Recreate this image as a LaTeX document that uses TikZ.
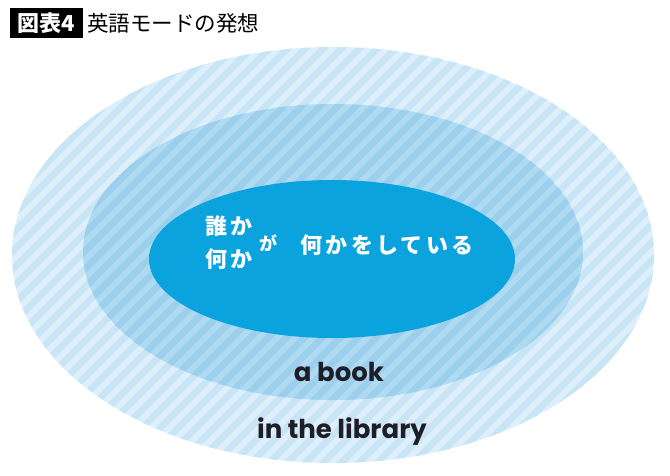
\documentclass[tikz,border=0pt]{standalone}
\usepackage{fontspec}
\newfontfamily\cjk{Noto Sans CJK JP}
\newfontfamily\cjkwide{Noto Sans CJK JP}[LetterSpace=15]
\newfontfamily\latin{Poppins}
\definecolor{outerA}{HTML}{DCEFFA}
\definecolor{outerB}{HTML}{C8E5F5}
\definecolor{midA}{HTML}{AEDBF2}
\definecolor{midB}{HTML}{9CCFEB}
\definecolor{innerC}{HTML}{0BA3DE}
\definecolor{ink}{HTML}{1E1E28}
\tikzset{
  stripe/.style={line width=6.5pt},
  jpwhite/.style={text=white, inner sep=0pt, font=\cjkwide\bfseries\fontsize{22}{22}\selectfont},
  label/.style={text=ink, inner sep=0pt, font=\latin\bfseries\fontsize{26}{26}\selectfont},
}
\begin{document}
\begin{tikzpicture}[x=1pt,y=-1pt]
\useasboundingbox (0,0) rectangle (670,475);
\fill[white] (0,0) rectangle (670,475);
% outer ellipse
\begin{scope}
\clip (333,255) ellipse [x radius=321, y radius=208];
\fill[outerA] (0,0) rectangle (670,475);
\foreach \k in {-504,-486,...,700} \draw[outerB, stripe] (\k,480) -- ++(480,-480);
\end{scope}
% middle ellipse
\begin{scope}
\clip (333,252) ellipse [x radius=250, y radius=148];
\fill[midA] (0,0) rectangle (670,475);
\foreach \k in {-504,-486,...,700} \draw[midB, stripe] (\k,480) -- ++(480,-480);
\end{scope}
% inner ellipse
\fill[innerC] (332,259) ellipse [x radius=183, y radius=79];
% title
\node[fill=black, text=white, inner sep=0pt, minimum width=73pt, minimum height=30pt,
      font=\cjk\bfseries\fontsize{22}{22}\selectfont] (fig) at (46,23) {図表4};
\node[anchor=west, inner sep=0pt, font=\cjk\fontsize{21.5}{21.5}\selectfont] (title) at (87,23) {英語モードの発想};
% inner texts
\node[jpwhite] (who) at (229,226) {誰か};
\node[jpwhite] (what) at (229,259) {何か};
\node[jpwhite, font=\cjk\bfseries\fontsize{18}{18}\selectfont] (ga) at (268,243) {が};
\node[jpwhite] (doing) at (387,245) {何かをしている};
% labels
\node[label] (book) at (339,372) {a book};
\node[label] (lib) at (342,432) {in the library};
\end{tikzpicture}
\end{document}
